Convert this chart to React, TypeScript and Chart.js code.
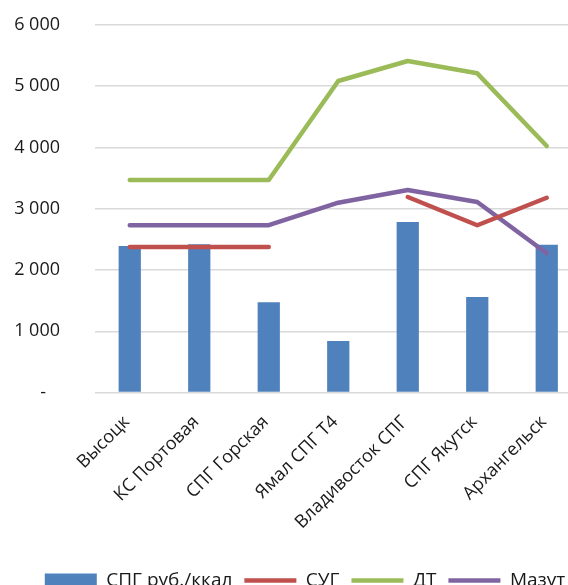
import React, { useEffect, useRef } from "react";
import { Chart, registerables } from "chart.js";

Chart.register(...registerables);

const categories = [
  "Высоцк",
  "КС Портовая",
  "СПГ Горская",
  "Ямал СПГ Т4",
  "Владивосток СПГ",
  "СПГ Якутск",
  "Архангельск",
];
const spgValues = [2390, 2420, 1473, 841, 2784, 1559, 2413];
const sugValues: (number | null)[] = [2375, 2375, 2375, null, 3192, 2731, 3180];
const dtValues = [3469, 3469, 3469, 5086, 5412, 5211, 4024];
const mazutValues = [2731, 2731, 2731, 3099, 3306, 3110, 2273];
const yTicks = [0, 1000, 2000, 3000, 4000, 5000, 6000];

const FONT = "'Open Sans', sans-serif";

function fmt(v: number): string {
  if (v === 0) return "-   ";
  return String(v).replace(/\B(?=(\d{3})+(?!\d))/g, " ");
}

export default function App() {
  const ref = useRef<HTMLCanvasElement | null>(null);
  useEffect(() => {
    if (!ref.current) return;
    const lineDs = (label: string, data: (number | null)[], color: string) =>
      ({
        type: "line",
        label,
        data,
        borderColor: color,
        backgroundColor: color,
        borderWidth: 4.5,
        borderCapStyle: "round",
        borderJoinStyle: "round",
        pointRadius: 0,
        tension: 0,
        spanGaps: false,
        order: 0,
        pointStyle: "line",
      } as any);
    const chart = new Chart(ref.current, {
      type: "bar",
      data: {
        labels: categories,
        datasets: [
          {
            type: "bar",
            label: "СПГ руб./ккал",
            data: spgValues,
            backgroundColor: "#4F81BD",
            borderWidth: 0,
            barPercentage: 0.32,
            categoryPercentage: 1,
            order: 1,
            pointStyle: "rect",
          } as any,
          lineDs("СУГ", sugValues, "#C0504D"),
          lineDs("ДТ", dtValues, "#9BBB59"),
          lineDs("Мазут", mazutValues, "#8064A2"),
        ],
      },
      options: {
        animation: false,
        responsive: false,
        maintainAspectRatio: false,
        layout: { padding: { top: 25, right: 0, left: 0, bottom: 0 } },
        plugins: {
          tooltip: { enabled: false },
          legend: {
            position: "bottom",
            labels: {
              sort: (a: any, b: any) => a.datasetIndex - b.datasetIndex,
              usePointStyle: true,
              pointStyleWidth: 52,
              boxHeight: 14,
              padding: 12,
              color: "#1a1a1a",
              font: { family: FONT, size: 19 },
            },
          },
        },
        scales: {
          x: {
            grid: { display: false, drawTicks: false },
            border: { display: false },
            ticks: {
              minRotation: 45,
              maxRotation: 45,
              autoSkip: false,
              padding: 19,
              labelOffset: -3,
              color: "#1a1a1a",
              font: { family: FONT, size: 18 },
            },
            afterFit: (s: any) => {
              s.height = 166.5;
              s.paddingLeft = 0;
              s.paddingRight = 0;
            },
          },
          y: {
            min: 0,
            max: 6000,
            afterBuildTicks: (s: any) => {
              s.ticks = yTicks.map((v) => ({ value: v }));
            },
            grid: { color: "#d9d9d9", lineWidth: 1.5, drawTicks: false },
            border: { display: false },
            ticks: {
              padding: 35,
              color: "#1a1a1a",
              font: { family: FONT, size: 18 },
              callback: (v: any) => fmt(Number(v)),
            },
            afterFit: (s: any) => {
              s.width = 95;
              s.paddingTop = 0;
              s.paddingBottom = 0;
            },
          },
          yRight: {
            position: "right",
            display: true,
            grid: { display: false, drawTicks: false },
            border: { display: false },
            ticks: { display: false },
            afterFit: (s: any) => {
              s.width = 28.5;
              s.paddingTop = 0;
              s.paddingBottom = 0;
            },
          },
        },
      },
    });
    return () => chart.destroy();
  }, []);
  return (
    <div
      style={{
        position: "fixed",
        left: 0,
        top: 0,
        width: 568,
        height: 585,
        overflow: "hidden",
        background: "#fff",
      }}
    >
      <canvas ref={ref} width={610} height={600} style={{ width: 610, height: 600, display: "block" }} />
    </div>
  );
}
